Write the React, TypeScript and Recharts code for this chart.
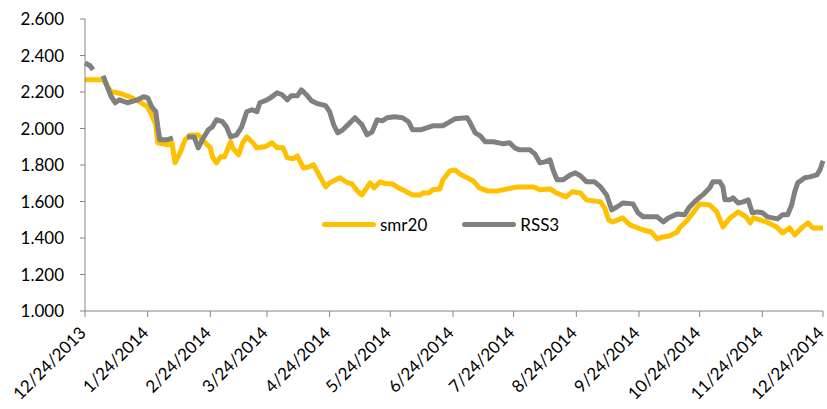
import React from "react";
import { LineChart, Line, XAxis, YAxis, Legend } from "recharts";

// x = days since 12/24/2013
const smr20: [number, number][] = [
  [0, 2.267], [9, 2.267], [11, 2.234], [13, 2.201], [16, 2.196], [19, 2.185],
  [22, 2.174], [27, 2.146], [31, 2.119], [33, 2.075], [35, 2.02], [36, 1.922],
  [41, 1.911], [43, 1.922], [44.5, 1.812], [47, 1.867], [49.5, 1.938], [52, 1.965],
  [56, 1.965], [59, 1.927], [62, 1.894], [63, 1.845], [65, 1.812], [67, 1.845],
  [69, 1.845], [72, 1.927], [73, 1.894], [76, 1.856], [78, 1.922], [80, 1.954],
  [83, 1.922], [85, 1.894], [89, 1.9], [92.5, 1.922], [95, 1.894], [98, 1.894],
  [100, 1.839], [103, 1.834], [105, 1.85], [108, 1.784], [111, 1.79], [113, 1.801],
  [116, 1.741], [119, 1.68], [121, 1.702], [126, 1.73], [129, 1.708], [132, 1.697],
  [135, 1.653], [137, 1.636], [141, 1.702], [143, 1.675], [146, 1.708], [149, 1.697],
  [152, 1.697], [155, 1.675], [159, 1.653], [162, 1.636], [166, 1.636], [167, 1.647],
  [170, 1.647], [172, 1.664], [175.5, 1.669], [177, 1.719], [180.5, 1.768], [183, 1.773],
  [186, 1.746], [189, 1.73], [192, 1.713], [195, 1.675], [199, 1.658], [204, 1.658],
  [209, 1.669], [214, 1.68], [222, 1.68], [225, 1.664], [230, 1.669], [233, 1.647],
  [238, 1.625], [241, 1.653], [245, 1.647], [248, 1.609], [255, 1.598], [257, 1.565],
  [259, 1.499], [261, 1.488], [266, 1.51], [269.5, 1.472], [276, 1.444], [280, 1.433],
  [283, 1.395], [286, 1.406], [289, 1.411], [293, 1.433], [294, 1.455], [298, 1.499],
  [301, 1.543], [304, 1.587], [309, 1.581], [312.5, 1.543], [315.5, 1.461], [319, 1.51],
  [323, 1.543], [327, 1.516], [329, 1.483], [330.5, 1.51], [337, 1.488], [342, 1.461],
  [345, 1.428], [348.5, 1.455], [351, 1.417], [355, 1.461], [357.5, 1.483], [360, 1.455],
  [365, 1.455],
];

const rss3: [number, number | null][] = [
  [0, 2.36], [2.5, 2.344], [4, 2.322], [6, null], [9, 2.289], [11, 2.229], [13, 2.174],
  [15, 2.141], [17, 2.157], [21, 2.141], [26, 2.157], [29, 2.174], [31, 2.168],
  [33, 2.119], [35, 2.092], [36, 2.009], [37, 1.938], [40.5, 1.938], [43.5, 1.949],
  [46, null], [50.5, 1.954], [54, 1.954], [56, 1.894], [58, 1.938], [61, 1.993],
  [63, 2.009], [65, 2.048], [68, 2.037], [70, 2.009], [72, 1.954], [75, 1.965],
  [77.5, 2.009], [80, 2.092], [82.5, 2.103], [85, 2.092], [86.5, 2.141], [90, 2.157],
  [92.5, 2.174], [95, 2.196], [97.5, 2.185], [100, 2.157], [102, 2.179], [105, 2.179],
  [107, 2.212], [110, 2.179], [112, 2.152], [115, 2.136], [119, 2.125], [121, 2.092],
  [123, 2.02], [125, 1.976], [127.5, 1.993], [130, 2.02], [133.5, 2.059], [137, 2.02],
  [139.5, 1.965], [142, 1.982], [144.5, 2.048], [147, 2.042], [149.5, 2.059],
  [153, 2.064], [157, 2.059], [160, 2.037], [162, 1.993], [166, 1.993], [169, 2.004],
  [172, 2.015], [177, 2.015], [179.5, 2.031], [183, 2.053], [189, 2.059], [190.5, 2.031],
  [193, 1.976], [195.5, 1.96], [198, 1.927], [202, 1.927], [207, 1.916], [210, 1.922],
  [212.5, 1.894], [215, 1.883], [220, 1.883], [222.5, 1.861], [225, 1.812],
  [227.5, 1.817], [230, 1.828], [231.5, 1.773], [233.5, 1.719], [236.5, 1.719],
  [240, 1.746], [242.5, 1.757], [245, 1.741], [248, 1.708], [252, 1.708], [255, 1.68],
  [258, 1.636], [260.5, 1.554], [263, 1.57], [266, 1.592], [271, 1.587], [273.5, 1.538],
  [276, 1.516], [283, 1.516], [286, 1.488], [288.5, 1.51], [293, 1.532], [296.5, 1.527],
  [299, 1.57], [302.5, 1.609], [305.5, 1.636], [309, 1.675], [310.5, 1.708], [314, 1.708],
  [315.5, 1.68], [316.5, 1.609], [319, 1.609], [320.5, 1.62], [323, 1.592], [325.5, 1.598],
  [328, 1.609], [330, 1.538], [332.5, 1.543], [335, 1.538], [337.5, 1.516],
  [342.5, 1.505], [345, 1.527], [347.5, 1.527], [349.5, 1.581], [351, 1.653],
  [352.5, 1.702], [356, 1.73], [358.5, 1.735], [362, 1.746], [363.5, 1.773], [365, 1.823],
];

const xTicks = [0, 31, 62, 90, 121, 151, 182, 212, 243, 274, 304, 335, 365];
const xTickLabels = [
  "12/24/2013", "1/24/2014", "2/24/2014", "3/24/2014", "4/24/2014", "5/24/2014",
  "6/24/2014", "7/24/2014", "8/24/2014", "9/24/2014", "10/24/2014", "11/24/2014",
  "12/24/2014",
];
const yTicks = [1.0, 1.2, 1.4, 1.6, 1.8, 2.0, 2.2, 2.4, 2.6];
const legendOrder = ["smr20", "RSS3"];

const smrData = smr20.map(([day, value]) => ({ day, value }));
const rssData = rss3.map(([day, value]) => ({ day, value }));

const FONT = "Lato, 'Liberation Sans', sans-serif";
const AXIS = "#868686";

const DateTick = (props: any) => {
  const { x, y, payload } = props;
  const i = xTicks.indexOf(payload.value);
  const tx = x + 2;
  const ty = y + 15;
  return (
    <text
      x={tx}
      y={ty}
      textAnchor="end"
      transform={`rotate(-45, ${tx}, ${ty})`}
      fill="#000"
      fontSize={17}
      fontFamily={FONT}
    >
      {xTickLabels[i]}
    </text>
  );
};

const LegendContent = (props: any) => {
  const items = [...(props.payload || [])].sort(
    (a: any, b: any) => legendOrder.indexOf(a.value) - legendOrder.indexOf(b.value)
  );
  return (
    <div style={{ display: "flex", alignItems: "center", fontFamily: FONT, fontSize: 17 }}>
      {items.map((it: any, idx: number) => (
        <div key={idx} style={{ display: "flex", alignItems: "center", marginRight: idx === 0 ? 35 : 0 }}>
          <div style={{ width: 54, height: 5, background: it.color, borderRadius: 3, marginRight: 4 }} />
          <span style={{ color: "#000" }}>{it.value}</span>
        </div>
      ))}
    </div>
  );
};

export default function App() {
  return (
    <div style={{ position: "absolute", left: 0, top: 0, width: 827, height: 409, background: "#fff" }}>
      <LineChart width={827} height={409} margin={{ top: 19, right: 4, bottom: 68, left: 0 }}>
        <XAxis
          type="number"
          dataKey="day"
          domain={[0, 365]}
          ticks={xTicks}
          interval={0}
          height={30}
          stroke={AXIS}
          tickSize={6}
          tick={<DateTick />}
          allowDuplicatedCategory={false}
        />
        <YAxis
          type="number"
          domain={[1, 2.6]}
          ticks={yTicks}
          width={85}
          stroke={AXIS}
          tickSize={5}
          tickMargin={16}
          tickFormatter={(v: number) => v.toFixed(3)}
          tick={{ fill: "#000", fontSize: 17, fontFamily: FONT }}
        />
        <Legend
          verticalAlign="middle"
          layout="horizontal"
          content={<LegendContent />}
          wrapperStyle={{ left: 322, top: 214, width: "auto" }}
        />
        <Line
          data={smrData}
          dataKey="value"
          name="smr20"
          stroke="#FFC000"
          strokeWidth={5}
          dot={false}
          isAnimationActive={false}
          strokeLinejoin="round"
        />
        <Line
          data={rssData}
          dataKey="value"
          name="RSS3"
          stroke="#808080"
          strokeWidth={5}
          dot={false}
          connectNulls={false}
          isAnimationActive={false}
          strokeLinejoin="round"
        />
      </LineChart>
    </div>
  );
}
